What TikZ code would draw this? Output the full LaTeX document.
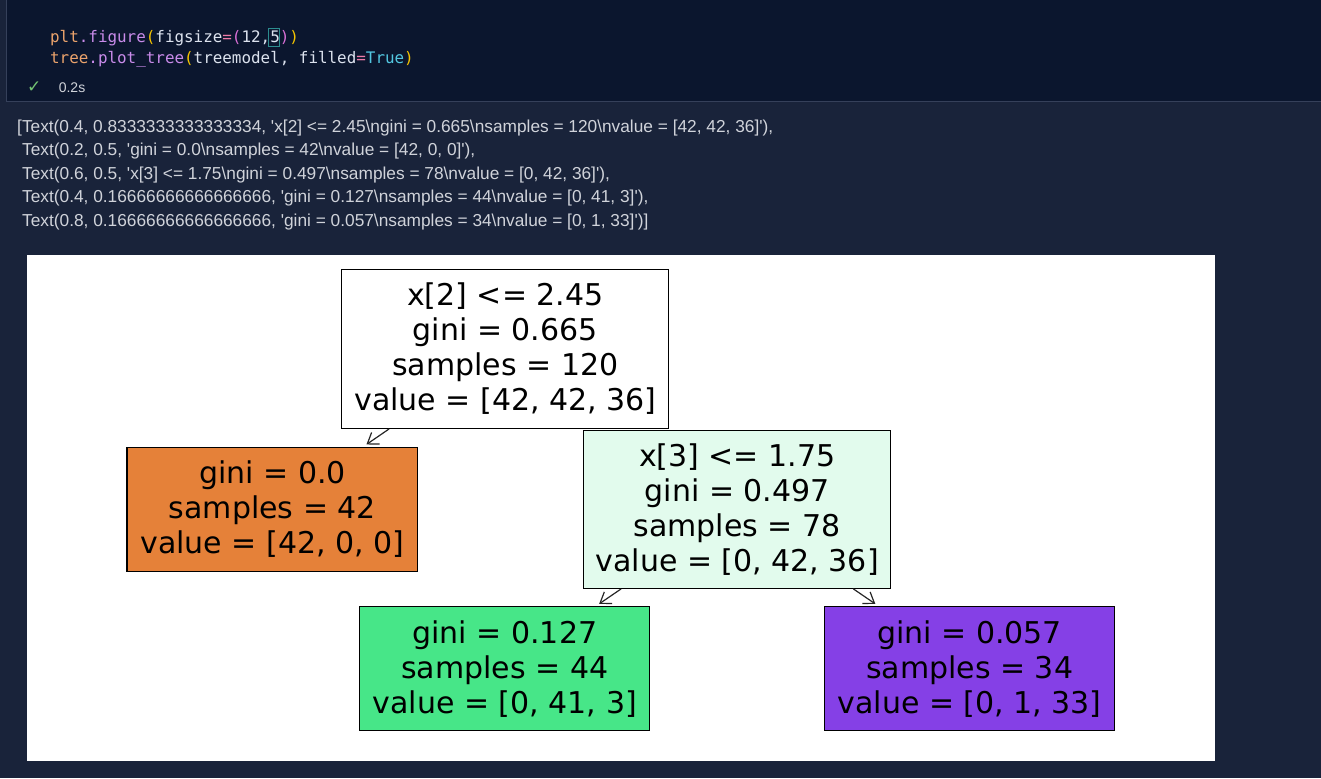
\documentclass[tikz,border=0pt]{standalone}
\usepackage{fontspec}
\setmainfont{DejaVu Sans}
\newfontfamily\codefont{DejaVu Sans Mono}
\newfontfamily\outfont{Liberation Sans}
\usetikzlibrary{positioning,arrows.meta}

\definecolor{pagebg}{HTML}{19233A}
\definecolor{cellbg}{HTML}{0B162E}
\definecolor{cellline}{HTML}{35405A}
\definecolor{outgray}{HTML}{D0D3DA}
\definecolor{codetext}{HTML}{DCE2EE}
\definecolor{codevar}{HTML}{EBA36C}
\definecolor{codefunc}{HTML}{C98BEA}
\definecolor{bracketone}{HTML}{F5C400}
\definecolor{brackettwo}{HTML}{D96FD6}
\definecolor{codeop}{HTML}{EE7BA8}
\definecolor{codeconst}{HTML}{52C6E0}
\definecolor{cursorteal}{HTML}{2C8C8F}
\definecolor{checkgreen}{HTML}{73C473}
\definecolor{edgegray}{HTML}{262626}
\definecolor{classzero}{HTML}{E58139}
\definecolor{classone}{HTML}{47E688}
\definecolor{classonelight}{HTML}{E2FBED}
\definecolor{classtwo}{HTML}{8540E6}

\begin{document}
\begin{tikzpicture}[x=1pt,y=-1pt,>={Straight Barb[length=10pt,width=14pt]},
  treebox/.style={draw=black,line width=1.2pt,inner sep=0pt,align=center,
    font=\fontsize{30}{35}\selectfont},
  leafbox/.style={treebox,minimum width=290pt,minimum height=124pt},
  edge/.style={->,line width=1.2pt,draw=edgegray,shorten >=4pt},
  codeline/.style={anchor=base west,inner sep=0pt,text=codetext,
    font=\codefont\fontsize{15.9}{19}\selectfont},
  outline/.style={anchor=base west,inner sep=0pt,text=outgray,
    font=\outfont\fontsize{17.3}{20}\selectfont}]

% notebook background
\fill[pagebg] (0,0) rectangle (1321,778);
\fill[cellbg] (6,0) rectangle (1321,101);
\draw[cellline,line width=1pt] (6.5,0) -- (6.5,101) -- (1321,101);
\fill[white] (27,255) rectangle (1215,761);
\useasboundingbox (0,0) rectangle (1321,778);

% code cell
\node (code1) at (50,42) [codeline] {\textcolor{codevar}{plt}\textcolor{codefunc}{.figure}\textcolor{bracketone}{(}figsize\textcolor{codeop}{=}\textcolor{brackettwo}{(}12,5\textcolor{brackettwo}{)}\textcolor{bracketone}{)}};
\node (code2) at (50,63.5) [codeline] {\textcolor{codevar}{tree}\textcolor{codefunc}{.plot\_tree}\textcolor{bracketone}{(}treemodel, filled\textcolor{codeop}{=}\textcolor{codeconst}{True}\textcolor{bracketone}{)}};
\draw[cursorteal,line width=1pt] (269,28.5) rectangle (280,46.5);
\node (check) at (27,92) [anchor=base west,inner sep=0pt,text=checkgreen,font=\fontsize{17}{19}\selectfont] {✓};
\node (time) [right=17pt of check.base east,anchor=base west,inner sep=0pt,text=outgray,font=\outfont\fontsize{14}{16}\selectfont] {0.2s};

% printed output
\node (out1) at (17,132) [outline] {[Text(0.4, 0.8333333333333334, \textquotesingle x[2] <= 2.45\textbackslash ngini = 0.665\textbackslash nsamples = 120\textbackslash nvalue = [42, 42, 36]\textquotesingle),};
\node (out2) at (22,155.5) [outline] {Text(0.2, 0.5, \textquotesingle gini = 0.0\textbackslash nsamples = 42\textbackslash nvalue = [42, 0, 0]\textquotesingle),};
\node (out3) at (22,179) [outline] {Text(0.6, 0.5, \textquotesingle x[3] <= 1.75\textbackslash ngini = 0.497\textbackslash nsamples = 78\textbackslash nvalue = [0, 42, 36]\textquotesingle),};
\node (out4) at (22,202.5) [outline] {Text(0.4, 0.16666666666666666, \textquotesingle gini = 0.127\textbackslash nsamples = 44\textbackslash nvalue = [0, 41, 3]\textquotesingle),};
\node (out5) at (22,226) [outline] {Text(0.8, 0.16666666666666666, \textquotesingle gini = 0.057\textbackslash nsamples = 34\textbackslash nvalue = [0, 1, 33]\textquotesingle)]};

% tree
\node (root) at (505.5,348.5) [treebox,fill=white,minimum width=327pt,minimum height=159pt] {x[2] <= 2.45\\gini = 0.665\\samples = 120\\value = [42, 42, 36]};
\node (left) at (272.5,509) [leafbox,fill=classzero,minimum width=291pt] {gini = 0.0\\samples = 42\\value = [42, 0, 0]};
\node (right) at (737.5,509) [treebox,fill=classonelight,minimum width=307pt,minimum height=158pt] {x[3] <= 1.75\\gini = 0.497\\samples = 78\\value = [0, 42, 36]};
\node (lowa) at (505,668.5) [leafbox,fill=classone] {gini = 0.127\\samples = 44\\value = [0, 41, 3]};
\node (lowb) at (970,668.5) [leafbox,fill=classtwo] {gini = 0.057\\samples = 34\\value = [0, 1, 33]};

\draw[edge] (root) -- (left);
\draw[edge] (right) -- (lowa);
\draw[edge] (right) -- (lowb);
\end{tikzpicture}
\end{document}
